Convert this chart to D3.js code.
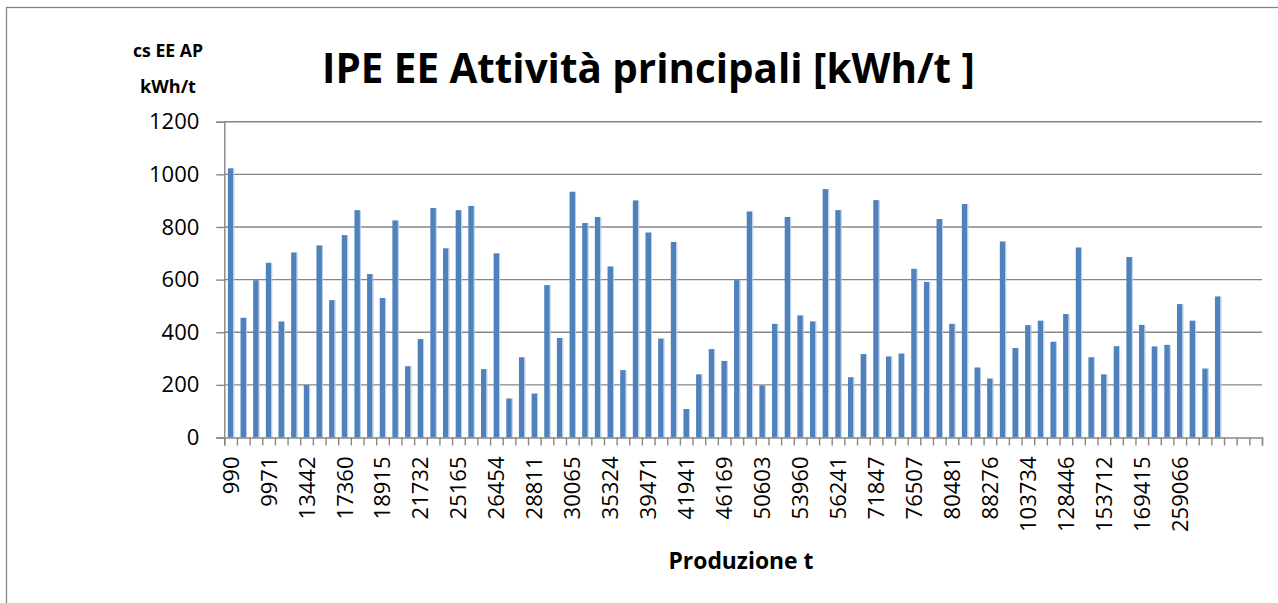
<!DOCTYPE html>
<html>
<head>
<meta charset="utf-8">
<script src="https://cdn.jsdelivr.net/npm/d3@7"></script>
<style>
  html, body { margin: 0; padding: 0; background: #fff; }
  svg { display: block; }
  text { font-family: "Open Sans", "Liberation Sans", sans-serif; fill: #000; }
</style>
</head>
<body>
<svg id="chart" width="1278" height="603"></svg>
<script>
// ---- data ----
const title = "IPE EE Attività principali [kWh/t ]";
const yTitleLines = ["cs EE AP", "kWh/t"];
const xTitle = "Produzione t";
const categoryCount = 82;
const values = [
  1023, 455, 598, 664, 441, 703, 200, 730, 522, 769,
  864, 621, 530, 825, 271, 374, 872, 719, 864, 880,
  260, 700, 148, 305, 167, 579, 378, 934, 815, 838,
  650, 256, 901, 779, 376, 743, 108, 240, 336, 291,
  598, 859, 198, 432, 838, 464, 441, 944, 864, 229,
  317, 902, 308, 319, 641, 591, 830, 432, 887, 266,
  224, 745, 340, 427, 444, 364, 469, 722, 305, 240,
  347, 686, 428, 346, 352, 507, 444, 262, 536,
  null, null, null
];
const tickLabels = [
  "990", "9971", "13442", "17360", "18915", "21732", "25165", "26454",
  "28811", "30065", "35324", "39471", "41941", "46169", "50603", "53960",
  "56241", "71847", "76507", "80481", "88276", "103734", "128446", "153712",
  "169415", "259066"
];
const labelEvery = 3;
const yTicks = [0, 200, 400, 600, 800, 1000, 1200];

// ---- layout ----
const svg = d3.select("#chart");
const plot = { left: 224.3, right: 1262, top: 121.7, bottom: 437.5 };
const gridColor = "#868686";
const barColor = "#4F81BD";

// outer frame
svg.append("rect")
  .attr("x", 6.5).attr("y", 7.5)
  .attr("width", 1300).attr("height", 700)
  .attr("fill", "#fff").attr("stroke", gridColor).attr("stroke-width", 1.3);

const indices = d3.range(categoryCount);
const x = d3.scaleBand().domain(indices)
  .range([plot.left, plot.right])
  .paddingInner(0.565).paddingOuter(0.2825);
const y = d3.scaleLinear().domain([0, 1200]).range([plot.bottom, plot.top]);

// gridlines
svg.append("g").selectAll("line").data(yTicks.filter(d => d > 0)).join("line")
  .attr("x1", plot.left).attr("x2", plot.right)
  .attr("y1", d => y(d)).attr("y2", d => y(d))
  .attr("stroke", gridColor).attr("stroke-width", 1.4);

// y axis
const yAxis = d3.axisLeft(y).tickValues(yTicks).tickSize(8).tickPadding(17).tickFormat(d3.format("d"));
const gy = svg.append("g").attr("transform", `translate(${plot.left},0)`).call(yAxis);
gy.select(".domain").attr("stroke", gridColor).attr("stroke-width", 1.4);
gy.selectAll(".tick line").attr("stroke", gridColor).attr("stroke-width", 1.4);
gy.selectAll(".tick text").attr("font-size", 22).attr("font-family", "Open Sans").attr("fill", "#000");

// bars
const bars = svg.append("g");
const data = values.map((v, i) => ({ i, v })).filter(d => d.v != null);
bars.selectAll("rect.bar").data(data).join("rect")
  .attr("class", "bar")
  .attr("x", d => x(d.i))
  .attr("width", x.bandwidth())
  .attr("y", d => y(d.v))
  .attr("height", d => y(0) - y(d.v))
  .attr("fill", barColor);
bars.selectAll("line.hl").data(data).join("line")
  .attr("class", "hl")
  .attr("x1", d => x(d.i) + x.bandwidth() + 0.5)
  .attr("x2", d => x(d.i) + x.bandwidth() + 0.5)
  .attr("y1", d => y(d.v)).attr("y2", d => y(0))
  .attr("stroke", "#b9cde5").attr("stroke-width", 1);

// x axis (ticks at category boundaries)
const xb = d3.scaleLinear().domain([0, categoryCount]).range([plot.left, plot.right]);
const xAxisB = d3.axisBottom(xb).tickValues(d3.range(categoryCount + 1)).tickSize(8).tickFormat("");
const gx = svg.append("g").attr("transform", `translate(0,${plot.bottom})`).call(xAxisB);
gx.select(".domain").attr("stroke", gridColor).attr("stroke-width", 1.4);
gx.selectAll(".tick line").attr("stroke", gridColor).attr("stroke-width", 1.4);

// x labels
const labelled = tickLabels.map((t, k) => ({ t, i: k * labelEvery }));
svg.append("g").selectAll("text").data(labelled).join("text")
  .attr("transform", d => `translate(${x(d.i) + x.bandwidth() / 2 + 8},${plot.bottom + 19}) rotate(-90)`)
  .attr("text-anchor", "end")
  .attr("font-size", 22)
  .text(d => d.t);

// helper to fit text width
function fitText(sel, target) {
  const w = sel.node().getComputedTextLength();
  const fs = parseFloat(sel.attr("font-size"));
  sel.attr("font-size", fs * target / w);
}

// title
const tt = svg.append("text").attr("x", 648.5).attr("y", 83)
  .attr("text-anchor", "middle").attr("font-weight", "bold").attr("font-size", 34)
  .text(title);
fitText(tt, 653);

// y title
const yt1 = svg.append("text").attr("x", 168).attr("y", 57)
  .attr("text-anchor", "middle").attr("font-weight", "bold").attr("font-size", 17)
  .text(yTitleLines[0]);
fitText(yt1, 70);
const yt2 = svg.append("text").attr("x", 168).attr("y", 93)
  .attr("text-anchor", "middle").attr("font-weight", "bold").attr("font-size", 17)
  .text(yTitleLines[1]);
fitText(yt2, 56);

// x title
const xt = svg.append("text").attr("x", 741).attr("y", 569)
  .attr("text-anchor", "middle").attr("font-weight", "bold").attr("font-size", 18)
  .text(xTitle);
fitText(xt, 145);
</script>
</body>
</html>
